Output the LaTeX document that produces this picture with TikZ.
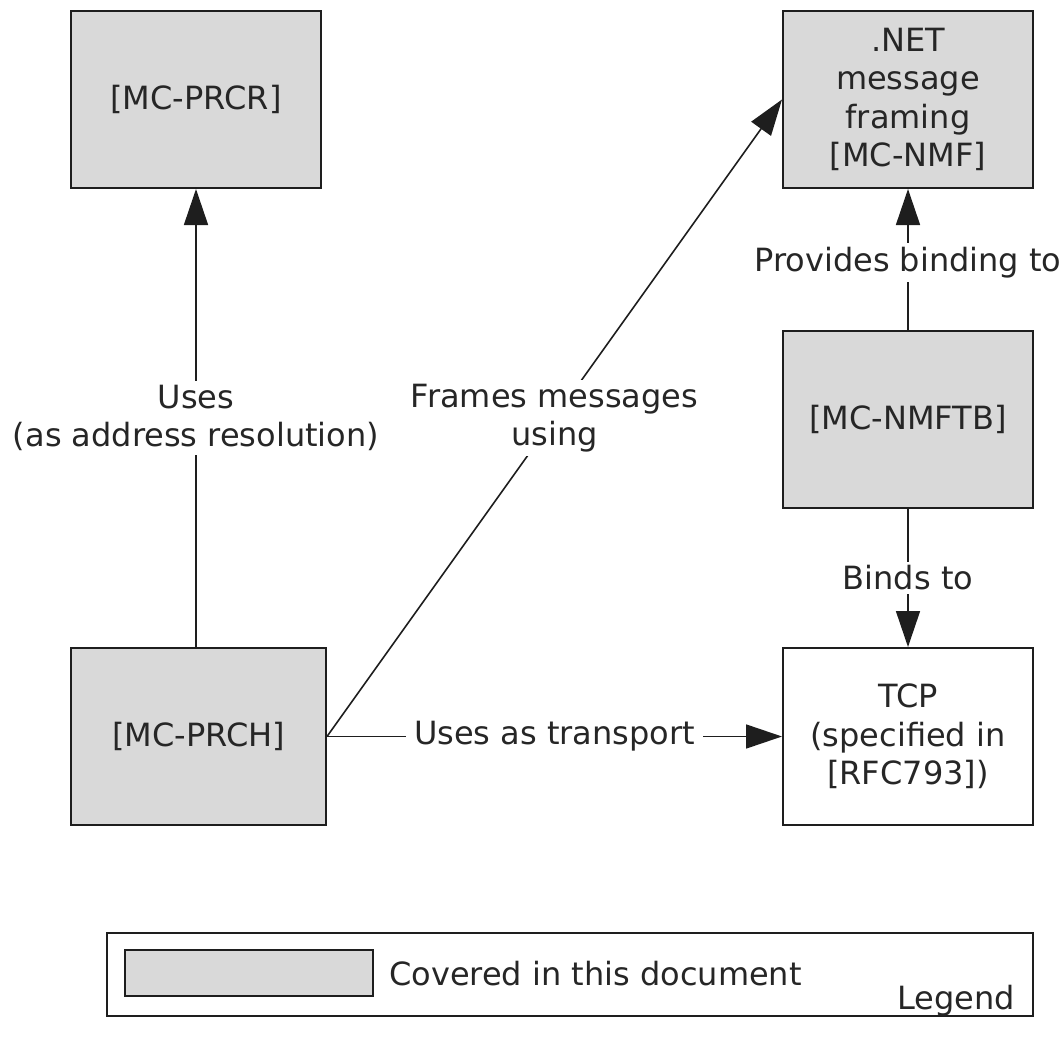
\documentclass[tikz,border=0pt]{standalone}
\usepackage{fontspec}
\setmainfont{DejaVu Sans}
\usetikzlibrary{arrows.meta}
\definecolor{covgray}{HTML}{D9D9D9}
\definecolor{txt}{HTML}{262626}
\definecolor{edge}{HTML}{1E1E1E}
\begin{document}
\begin{tikzpicture}[x=1pt,y=-1pt,
  txtfont/.style={font=\fontsize{32}{38.5}\selectfont},
  box/.style={draw=edge,line width=2pt,minimum width=250pt,minimum height=177pt,inner sep=0pt,align=center,text=txt,txtfont},
  covered/.style={box,fill=covgray},
  conn/.style={draw=edge,line width=1.6pt},
  arr/.style={conn,-{Triangle[length=36pt,width=24pt]}},
  lbl/.style={fill=white,inner xsep=8pt,inner ysep=4pt,align=center,text=txt,txtfont}]
\useasboundingbox (0,0) rectangle (1063,1038);

\node[covered] (prcr) at (196,99.5) {[MC-PRCR]};
\node[covered] (nmf) at (908,99.5) {.NET\\message\\framing\\{}[MC-NMF]};
\node[covered] (nmftb) at (908,419.5) {[MC-NMFTB]};
\node[covered,minimum width=255pt] (prch) at (198.5,736.5) {[MC-PRCH]};
\node[box] (tcp) at (908,736.5) {TCP\\(specified in\\{}[RFC793])};

\draw[arr] (prch.north -| prcr.south) -- node[lbl] {Uses\\(as address resolution)} (prcr.south);
\draw[arr] (prch.east) -- node[lbl] {Frames messages\\using} (nmf.west);
\draw[arr] (prch.east) -- node[lbl] {Uses as transport} (tcp.west);
\draw[arr] (nmftb.north) -- node[lbl,yshift=-3pt] {Provides binding to} (nmf.south);
\draw[arr] (nmftb.south) -- node[lbl] {Binds to} (tcp.north);

\node[draw=edge,line width=2pt,minimum width=926pt,minimum height=83pt,inner sep=0pt] (legend) at (570,974.5) {};
\node[draw=edge,line width=2pt,fill=covgray,minimum width=248pt,minimum height=46pt,inner sep=0pt] (legbox) at (249,973) {};
\node[anchor=west,text=txt,txtfont,inner sep=0pt] (legtext) at (389,974) {Covered in this document};
\node[anchor=south east,text=txt,txtfont,inner sep=0pt] (legtitle) at (1015,1016) {Legend};
\end{tikzpicture}
\end{document}
